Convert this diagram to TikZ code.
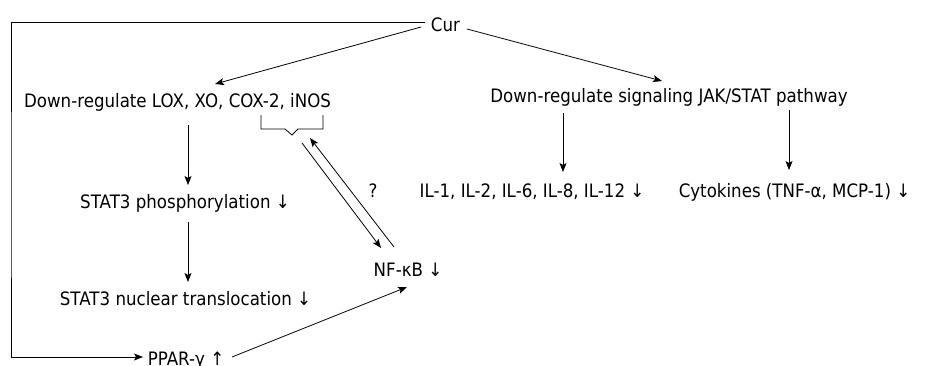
\documentclass[tikz,border=0pt]{standalone}
\usepackage{fontspec}
\setmainfont{DejaVu Sans}[FakeStretch=0.9]
\usetikzlibrary{arrows.meta}
\tikzset{
  lbl/.style={inner sep=0pt, anchor=base, font=\fontsize{18.5}{22}\selectfont},
  link/.style={line width=0.8pt, draw=black},
  arr/.style={link, -{Stealth[length=9pt,width=7pt,inset=2pt]}},
  arrback/.style={link, {Stealth[length=9pt,width=7pt,inset=2pt]}-}
}
\begin{document}
\begin{tikzpicture}[x=1pt,y=-1pt]
  \useasboundingbox (0,0) rectangle (944,365);

  % text nodes (placed by their baselines)
  \node[lbl] (cur)    at (445.5,31)  {Cur};
  \node[lbl] (lox)    at (177.5,107) {Down-regulate LOX, XO, COX-2, iNOS};
  \node[lbl] (jak)    at (669,102)   {Down-regulate signaling JAK/STAT pathway};
  \node[lbl] (stat3p) at (185,208)   {STAT3 phosphorylation ↓};
  \node[lbl] (stat3n) at (185.5,305) {STAT3 nuclear translocation ↓};
  \node[lbl] (ppar)   at (186,365.5) {PPAR-γ ↑};
  \node[lbl] (nfkb)   at (408,276)   {NF-κB ↓};
  \node[lbl] (il)     at (532,197)   {IL-1, IL-2, IL-6, IL-8, IL-12 ↓};
  \node[lbl] (cyt)    at (794.5,197) {Cytokines (TNF-α, MCP-1) ↓};
  \node[lbl] (q)      at (373,197)   {?};

  % brace under COX-2, iNOS
  \coordinate (brk) at ([shift={(83.5,8)}]lox.base);
  \draw[link] (brk) -- ++(0,14) -- ++(24,0) -- ++(7,6) coordinate (brktip)
              -- ++(6,-6) -- ++(25,0) -- ++(0,-14);

  % Cur branches
  \coordinate (loopL) at (11,200);
  \draw[arr] ([shift={(-20.5,-9)}]cur.base) -| (loopL) |- ([shift={(-43,-8.5)}]ppar.base);
  \draw[arr] ([shift={(-24.5,-4)}]cur.base) -- ([shift={(37.5,-23)}]lox.base);
  \draw[arr] ([shift={(21.5,-2)}]cur.base) -- ([shift={(-7,-21)}]jak.base);

  % left column
  \draw[arr] ([shift={(10.5,18)}]lox.base) -- ([shift={(3,-23)}]stat3p.base);
  \draw[arr] ([shift={(3,14)}]stat3p.base) -- ([shift={(2.5,-23)}]stat3n.base);
  \draw[arr] ([shift={(46,-8.5)}]ppar.base) -- ([shift={(-1,11)}]nfkb.base);

  % enzymes <-> NF-kB
  \draw[arr] ([shift={(10,8)}]brktip) -- ([shift={(-27,-28)}]nfkb.base);
  \draw[arrback] ([shift={(18,3)}]brktip) -- ([shift={(-14,-29)}]nfkb.base);

  % JAK/STAT targets
  \draw[arr] ([shift={(-106,11)}]jak.base) -- ([shift={(31,-25)}]il.base);
  \draw[arr] ([shift={(120,8)}]jak.base) -- ([shift={(-5.5,-27)}]cyt.base);
\end{tikzpicture}
\end{document}
